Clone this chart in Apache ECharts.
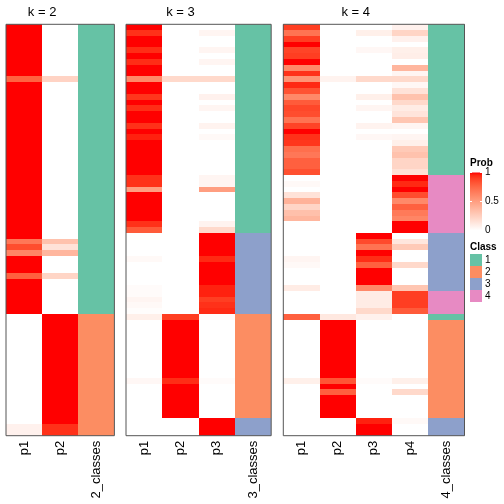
<!DOCTYPE html>
<html><head><meta charset="utf-8">
<script src="https://cdn.jsdelivr.net/npm/echarts@6/dist/echarts.min.js"></script>
<style>html,body{margin:0;padding:0;background:#fff}#c{width:504px;height:504px}</style>
</head><body><div id="c"></div>
<script>
// ---------- data (71 rows, top to bottom) ----------
const rowIds = Array.from({length: 71}, (_, i) => 'r' + (i + 1));

const panelTitles = ['k = 2', 'k = 3', 'k = 4'];
const colLabels_k2 = ['p1', 'p2', '2_classes'];
const colLabels_k3 = ['p1', 'p2', 'p3', '3_classes'];
const colLabels_k4 = ['p1', 'p2', 'p3', 'p4', '4_classes'];

const p1_k2 = [1,1,1,1,1,1,1,1,1,0.77, 1,1,1,1,1,1,1,1,1,1, 1,1,1,1,1,1,1,1,1,1, 1,1,1,1,1,1,1,0.68,0.85,0.62, 1,1,1,0.78,1,1,1,1,1,1, 0,0,0,0,0,0,0,0,0,0, 0,0,0,0,0,0,0,0,0,0.07,0.07];
const p2_k2 = [0,0,0,0,0,0,0,0,0,0.23, 0,0,0,0,0,0,0,0,0,0, 0,0,0,0,0,0,0,0,0,0, 0,0,0,0,0,0,0,0.32,0.15,0.38, 0,0,0,0.22,0,0,0,0,0,0, 1,1,1,1,1,1,1,1,1,1, 1,1,1,1,1,1,1,1,1,0.93,0.93];
const cls_k2 = [1,1,1,1,1,1,1,1,1,1, 1,1,1,1,1,1,1,1,1,1, 1,1,1,1,1,1,1,1,1,1, 1,1,1,1,1,1,1,1,1,1, 1,1,1,1,1,1,1,1,1,1, 2,2,2,2,2,2,2,2,2,2, 2,2,2,2,2,2,2,2,2,2,2];

const p1_k3 = [1,0.93,1,1,0.94,1,0.94,1,1,0.6, 1,1,0.92,1,0.94,1,1,0.93,1,0.96, 1,1,1,1,1,1,0.93,0.93,0.5,1, 1,1,1,1,0.93,0.8,0,0,0,0, 0.03,0,0,0,0,0.02,0.02,0.05,0.03,0.01, 0.08,0,0,0,0,0,0,0,0,0, 0,0.04,0,0,0,0,0,0,0,0,0];
const p2_k3 = [0,0,0,0,0,0,0,0,0,0.2, 0,0,0,0,0,0,0,0,0,0, 0,0,0,0,0,0,0,0,0,0, 0,0,0,0,0,0,0,0,0,0, 0,0,0,0,0,0,0,0,0,0, 0.9,1,1,1,1,1,1,1,1,1, 1,0.94,1,1,1,1,1,1,0,0,0];
const p3_k3 = [0,0.05,0,0,0.05,0,0.05,0,0,0.2, 0,0,0.07,0,0.05,0,0,0.06,0,0.03, 0,0,0,0,0,0,0.05,0.05,0.5,0, 0,0,0,0,0.06,0.2,1,1,1,1, 0.95,1,1,1,1,0.96,0.96,0.9,0.93,0.95, 0.02,0,0,0,0,0,0,0,0,0, 0,0.02,0,0,0,0,0,0,1,1,1];
const cls_k3 = [1,1,1,1,1,1,1,1,1,1, 1,1,1,1,1,1,1,1,1,1, 1,1,1,1,1,1,1,1,1,1, 1,1,1,1,1,1,3,3,3,3, 3,3,3,3,3,3,3,3,3,3, 2,2,2,2,2,2,2,2,2,2, 2,2,2,2,2,2,2,2,3,3,3];

const p1_k4 = [0.9,0.7,0.9,1,0.88,0.9,1,0.6,0.93,0.55, 0.95,0.83,0.6,0.8,0.87,0.85,0.7,0.88,1,0.93, 0.92,0.72,0.68,0.78,0.78,0.84,0,0.03,0,0.15, 0.4,0.22,0.33,0.38,0,0,0,0,0,0, 0.05,0.03,0,0,0,0.1,0,0,0,0, 0.78,0,0,0,0,0,0,0,0,0, 0,0.08,0,0,0,0,0,0,0,0,0];
const p2_k4 = [0,0,0,0,0,0,0,0,0,0.06, 0,0,0,0,0,0,0,0,0,0, 0,0,0,0,0,0,0,0,0,0, 0,0,0,0,0,0,0,0,0,0, 0,0,0,0,0,0,0,0,0,0, 0.12,1,1,1,1,1,1,1,1,1, 1,0.82,1,0.78,1,1,1,1,0,0,0];
const p3_k4 = [0,0.08,0,0,0.04,0,0,0,0,0.2, 0,0,0.08,0,0.05,0,0,0.06,0,0.04, 0,0,0,0,0,0,0,0,0,0, 0,0,0,0,0,0,1,0.86,0.7,1, 0.94,0.78,1,1,1,0.6,0.1,0.1,0.1,0.2, 0.07,0,0,0,0,0,0,0,0,0, 0,0.02,0,0,0,0,0,0,0.96,1,1];
const p4_k4 = [0.07,0.22,0.07,0,0.08,0.09,0,0.38,0.05,0.2, 0.04,0.15,0.32,0.2,0.1,0.14,0.3,0.05,0,0.05, 0.08,0.28,0.32,0.22,0.22,0.16,1,0.95,1,0.85, 0.6,0.78,0.67,0.62,1,1,0,0.13,0.28,0, 0,0.2,0,0,0,0.3,0.9,0.9,0.9,0.8, 0,0,0,0,0,0,0,0,0,0, 0,0.08,0,0.2,0,0,0,0,0.03,0,0];
const cls_k4 = [1,1,1,1,1,1,1,1,1,1, 1,1,1,1,1,1,1,1,1,1, 1,1,1,1,1,1,4,4,4,4, 4,4,4,4,4,4,3,3,3,3, 3,3,3,3,3,3,4,4,4,4, 1,2,2,2,2,2,2,2,2,2, 2,2,2,2,2,2,2,2,3,3,3];

const classColors = ['#66C2A5', '#FC8D62', '#8DA0CB', '#E78AC3'];
const classNames = ['1', '2', '3', '4'];
const probTicks = [1, 0.5, 0];

// ---------- colour ramp white -> red in CIE LAB ----------
function srgbToLin(c){ c/=255; return c<=0.04045? c/12.92 : Math.pow((c+0.055)/1.055,2.4); }
function linToSrgb(c){ c = c<=0.0031308? 12.92*c : 1.055*Math.pow(c,1/2.4)-0.055; return Math.round(Math.max(0,Math.min(1,c))*255); }
function rgb2lab(r,g,b){
  r=srgbToLin(r); g=srgbToLin(g); b=srgbToLin(b);
  let X=(0.4124*r+0.3576*g+0.1805*b)/0.95047, Y=(0.2126*r+0.7152*g+0.0722*b), Z=(0.0193*r+0.1192*g+0.9505*b)/1.08883;
  const f=t=>t>0.008856?Math.cbrt(t):(7.787*t+16/116);
  const fx=f(X), fy=f(Y), fz=f(Z);
  return [116*fy-16, 500*(fx-fy), 200*(fy-fz)];
}
function lab2rgb(L,a,b){
  const fy=(L+16)/116, fx=fy+a/500, fz=fy-b/200;
  const fi=t=>t*t*t>0.008856?t*t*t:(t-16/116)/7.787;
  const X=fi(fx)*0.95047, Y=fi(fy), Z=fi(fz)*1.08883;
  const r= 3.2406*X-1.5372*Y-0.4986*Z, g=-0.9689*X+1.8758*Y+0.0415*Z, bb=0.0557*X-0.2040*Y+1.0570*Z;
  return 'rgb('+linToSrgb(r)+','+linToSrgb(g)+','+linToSrgb(bb)+')';
}
const labW = rgb2lab(255,255,255), labR = rgb2lab(255,0,0);
function ramp(t){ return lab2rgb(labW[0]+(labR[0]-labW[0])*t, labW[1]+(labR[1]-labW[1])*t, labW[2]+(labR[2]-labW[2])*t); }
const NSTOP = 21;
const rampColors = Array.from({length:NSTOP},(_,i)=>ramp(i/(NSTOP-1)));

// ---------- panels ----------
const FONT = '"Liberation Sans", Arial, Helvetica, sans-serif';
const panels = [
  {title: panelTitles[0], labels: colLabels_k2, probs: [p1_k2, p2_k2], cls: cls_k2, left: 6, width: 108.4},
  {title: panelTitles[1], labels: colLabels_k3, probs: [p1_k3, p2_k3, p3_k3], cls: cls_k3, left: 126, width: 145.2},
  {title: panelTitles[2], labels: colLabels_k4, probs: [p1_k4, p2_k4, p3_k4, p4_k4], cls: cls_k4, left: 283.3, width: 181.2}
];
const TOP = 24.3, HEIGHT = 411.4;

// cell renderer: position from the axes, edges snapped to whole pixels (no seams)
function renderCell(params, api) {
  const c = api.coord([api.value(0), api.value(1)]);
  const s = api.size([1, 1]);
  const x0 = Math.round(c[0] - s[0] / 2), x1 = Math.round(c[0] + s[0] / 2);
  const y0 = Math.round(c[1] - s[1] / 2), y1 = Math.round(c[1] + s[1] / 2);
  return {type: 'rect', shape: {x: x0, y: y0, width: x1 - x0, height: y1 - y0},
    style: {fill: api.visual('color')}};
}

const grid = [], xAxis = [], yAxis = [], series = [], graphic = [];
const probSeriesIdx = [], clsSeriesIdx = [];
panels.forEach((p, g) => {
  grid.push({left: p.left, top: TOP, width: p.width, height: HEIGHT, show: true, z: 5,
    borderColor: '#555', borderWidth: 1, backgroundColor: 'transparent', containLabel: false});
  xAxis.push({type: 'category', gridIndex: g, data: p.labels, position: 'bottom',
    axisLine: {show: false}, axisTick: {show: false}, splitLine: {show: false},
    axisLabel: {rotate: 90, interval: 0, margin: 5, fontSize: 13, color: '#000', fontFamily: FONT}});
  yAxis.push({type: 'category', gridIndex: g, data: rowIds, inverse: true, show: false});
  const pd = [];
  p.probs.forEach((arr, j) => arr.forEach((v, i) => pd.push([j, i, v])));
  probSeriesIdx.push(series.length);
  series.push({type: 'custom', xAxisIndex: g, yAxisIndex: g, data: pd, renderItem: renderCell,
    encode: {x: 0, y: 1}, silent: true, clip: true});
  const cd = p.cls.map((c, i) => [p.probs.length, i, c]);
  clsSeriesIdx.push(series.length);
  series.push({type: 'custom', xAxisIndex: g, yAxisIndex: g, data: cd, renderItem: renderCell,
    encode: {x: 0, y: 1}, silent: true, clip: true});
  // title centred over the probability columns
  const colW = p.width / p.labels.length;
  graphic.push({type: 'text', x: p.left + colW * p.probs.length / 2, y: 12,
    style: {text: p.title, font: '13px ' + FONT, fill: '#000', align: 'center', verticalAlign: 'middle'}});
});

// ---------- legends ----------
const LX = 470;
graphic.push({type: 'text', x: LX, y: 163, style: {text: 'Prob', font: 'bold 10px ' + FONT, fill: '#000', align: 'left', verticalAlign: 'middle'}});
const barTop = 172.5, barH = 58;
graphic.push({type: 'rect', shape: {x: LX, y: barTop, width: 12, height: barH},
  style: {fill: new echarts.graphic.LinearGradient(0, 0, 0, 1,
    rampColors.map((c, i) => ({offset: 1 - i / (NSTOP - 1), color: c})).reverse())}});
probTicks.forEach(t => {
  const yy = barTop + (1 - t) * barH;
  graphic.push({type: 'line', shape: {x1: LX, y1: yy, x2: LX + 2, y2: yy}, style: {stroke: '#fff', lineWidth: 1}});
  graphic.push({type: 'line', shape: {x1: LX + 10, y1: yy, x2: LX + 12, y2: yy}, style: {stroke: '#fff', lineWidth: 1}});
  graphic.push({type: 'text', x: LX + 15, y: yy, style: {text: String(t), font: '10px ' + FONT, fill: '#000', align: 'left', verticalAlign: 'middle'}});
});
graphic.push({type: 'text', x: LX, y: 247, style: {text: 'Class', font: 'bold 10px ' + FONT, fill: '#000', align: 'left', verticalAlign: 'middle'}});
classColors.forEach((c, i) => {
  graphic.push({type: 'rect', shape: {x: LX, y: 254 + 12 * i, width: 12, height: 12}, style: {fill: c}});
  graphic.push({type: 'text', x: LX + 15, y: 260 + 12 * i, style: {text: classNames[i], font: '10px ' + FONT, fill: '#000', align: 'left', verticalAlign: 'middle'}});
});

const chart = echarts.init(document.getElementById('c'), null, {renderer: 'canvas'});
chart.setOption({
  animation: false,
  backgroundColor: '#fff',
  grid, xAxis, yAxis, series,
  visualMap: [
    {type: 'continuous', min: 0, max: 1, dimension: 2, seriesIndex: probSeriesIdx, show: false, inRange: {color: rampColors}},
    {type: 'piecewise', dimension: 2, seriesIndex: clsSeriesIdx, show: false,
     pieces: classColors.map((c, i) => ({value: i + 1, color: c, label: classNames[i]}))}
  ],
  graphic
});
</script>
</body></html>
